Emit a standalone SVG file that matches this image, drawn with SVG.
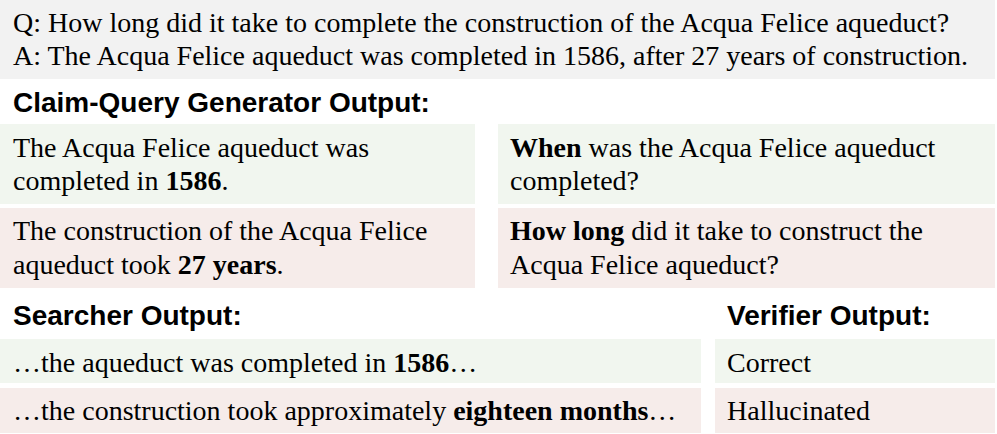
<svg xmlns="http://www.w3.org/2000/svg" width="997" height="434" viewBox="0 0 997 434">
<style>
.t{font-family:"Liberation Serif","Times New Roman",serif;font-size:28px;fill:#000}
.h{font-family:"Liberation Sans",Arial,sans-serif;font-size:28px;font-weight:bold;fill:#000}
.b{font-weight:bold}
.gray{fill:#f2f2f2}
.g{fill:#f1f6ef}
.r{fill:#f6ecea}
</style>
<rect width="997" height="434" fill="#ffffff"/>
<g id="qa">
<rect class="gray" x="0" y="0" width="995" height="79"/>
<text class="t" x="13" y="32">Q: How long did it take to complete the construction of the Acqua Felice aqueduct?</text>
<text class="t" x="13" y="65">A: The Acqua Felice aqueduct was completed in 1586, after 27 years of construction.</text>
</g>
<g id="cq-heading">
<text class="h" x="13" y="112">Claim-Query Generator Output:</text>
</g>
<g id="claim1">
<rect class="g" x="0" y="124" width="475" height="80"/>
<text class="t" x="13" y="157">The Acqua Felice aqueduct was</text>
<text class="t" x="13" y="190">completed in <tspan class="b">1586</tspan>.</text>
</g>
<g id="query1">
<rect class="g" x="498" y="124" width="497" height="80"/>
<text class="t" x="510" y="157"><tspan class="b">When</tspan> was the Acqua Felice aqueduct</text>
<text class="t" x="510" y="190">completed?</text>
</g>
<g id="claim2">
<rect class="r" x="0" y="208" width="475" height="80"/>
<text class="t" x="13" y="240">The construction of the Acqua Felice</text>
<text class="t" x="13" y="274">aqueduct took <tspan class="b">27 years</tspan>.</text>
</g>
<g id="query2">
<rect class="r" x="498" y="208" width="497" height="80"/>
<text class="t" x="510" y="240"><tspan class="b">How long</tspan> did it take to construct the</text>
<text class="t" x="510" y="274">Acqua Felice aqueduct?</text>
</g>
<g id="searcher-heading">
<text class="h" x="13" y="325">Searcher Output:</text>
</g>
<g id="verifier-heading">
<text class="h" x="727" y="325">Verifier Output:</text>
</g>
<g id="search1">
<rect class="g" x="0" y="339" width="701" height="44"/>
<text class="t" x="13" y="372">…the aqueduct was completed in <tspan class="b">1586</tspan>…</text>
</g>
<g id="search2">
<rect class="r" x="0" y="388" width="701" height="45"/>
<text class="t" x="13" y="420">…the construction took approximately <tspan class="b">eighteen months</tspan>…</text>
</g>
<g id="verify1">
<rect class="g" x="715" y="339" width="280" height="44"/>
<text class="t" x="727" y="372">Correct</text>
</g>
<g id="verify2">
<rect class="r" x="715" y="388" width="280" height="45"/>
<text class="t" x="727" y="420">Hallucinated</text>
</g>
<g id="connectors"></g>
</svg>
